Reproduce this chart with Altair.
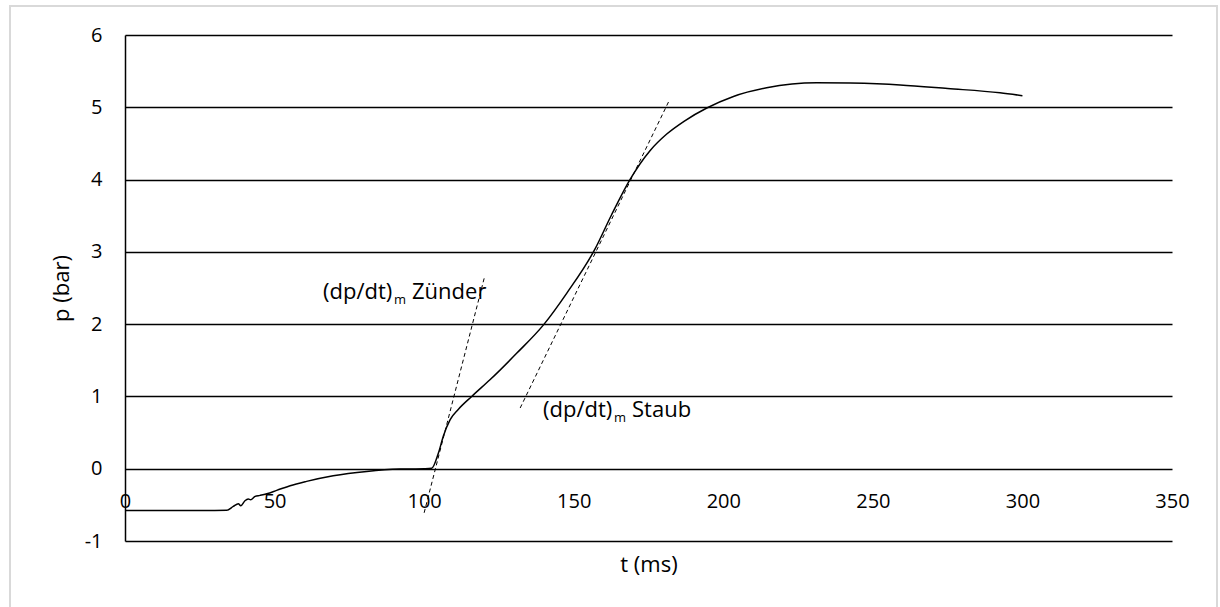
import altair as alt
import pandas as pd

# pressure curve p(t)
t_ms = [0, 10, 20, 30, 34.0, 36.2, 37.9, 38.7, 40.1, 41.2, 42.0, 43.5, 45.1, 47.4,
        50.7, 55.2, 60.7, 69.6, 80.8, 91.9, 100, 102.5, 104.8, 106.4, 108.7, 111.4,
        115.9, 122, 131, 139.9, 147.7, 157, 162.5, 168.8, 175.5, 181.1, 187,
        194.5, 203.4, 214.5, 231.2, 242.4, 259.1, 275, 292.5, 300]
p_bar = [-0.577, -0.577, -0.577, -0.577, -0.576, -0.521, -0.484, -0.512, -0.443, -0.42,
         -0.429, -0.383, -0.369, -0.346, -0.30, -0.235, -0.175, -0.097, -0.037, -0.005,
         0.0, 0.005, 0.22, 0.45, 0.68, 0.82, 1.0, 1.23, 1.6, 1.99, 2.43, 3.03, 3.5,
         4.0, 4.40, 4.63, 4.81, 4.99, 5.15, 5.27, 5.34, 5.335, 5.31, 5.26, 5.2, 5.16]

# tangents (dp/dt)m
zuender_t = [100.0, 120.1]
zuender_p = [-0.61, 2.64]
staub_t = [132.1, 182.0]
staub_p = [0.84, 5.1]

# annotation labels
label_t = [66.2, 139.75]
label_p = [2.45, 0.816]
label_main = ["(dp/dt)", "(dp/dt)"]
label_sub = ["m", "m"]
label_rest = ["Zünder", "Staub"]

x_ticks = [0, 50, 100, 150, 200, 250, 300, 350]
y_ticks = [-1, 0, 1, 2, 3, 4, 5, 6]

FONT = "Open Sans"

curve = pd.DataFrame({"t": t_ms, "p": p_bar})
tang = pd.DataFrame({
    "t": zuender_t + staub_t,
    "p": zuender_p + staub_p,
    "name": ["Zünder"] * 2 + ["Staub"] * 2,
})
labels = pd.DataFrame({"t": label_t, "p": label_p, "main": label_main,
                       "sub": label_sub, "rest": label_rest})

xscale = alt.Scale(domain=[0, 350], nice=False, zero=False)
yscale = alt.Scale(domain=[-1, 6], nice=False, zero=False)

xaxis = alt.Axis(values=x_ticks, grid=False, domain=False, ticks=False, offset=-72,
                 labelPadding=22, labelFontSize=20, labelFont=FONT, labelColor="black",
                 labelFlush=False, labelOverlap=False, labelExpr="'' + datum.value",
                 title="t (ms)", titleFontSize=22, titleFont=FONT, titleFontWeight="normal",
                 titleColor="black", titleY=95, titleBaseline="middle")
yaxis = alt.Axis(values=y_ticks, grid=True, gridColor="black", gridWidth=1.3,
                 domain=True, domainColor="black", domainWidth=1.5, ticks=False,
                 labelPadding=23, labelFontSize=20, labelFont=FONT, labelColor="black",
                 labelFlush=False, labelOverlap=False, labelExpr="'' + datum.value",
                 title="p (bar)", titleFontSize=22, titleFont=FONT, titleFontWeight="normal",
                 titleColor="black", titleX=-64, titleY=253, titleBaseline="middle")

border = alt.Chart(pd.DataFrame({"a": [0]})).mark_rect(
    filled=False, stroke="#d9d9d9", strokeWidth=2
).encode(x=alt.value(-115), x2=alt.value(1092), y=alt.value(-29), y2=alt.value(640))

line = alt.Chart(curve).mark_line(color="black", strokeWidth=1.5, interpolate="monotone").encode(
    x=alt.X("t:Q", scale=xscale, axis=xaxis),
    y=alt.Y("p:Q", scale=yscale, axis=yaxis),
)

tangents = alt.Chart(tang).mark_line(color="black", strokeWidth=1, strokeDash=[4, 3]).encode(
    x=alt.X("t:Q", scale=xscale),
    y=alt.Y("p:Q", scale=yscale),
    detail="name:N",
)

base_txt = alt.Chart(labels).encode(x=alt.X("t:Q", scale=xscale), y=alt.Y("p:Q", scale=yscale))
txt_main = base_txt.mark_text(align="left", baseline="middle", font=FONT, fontSize=22,
                              fill="black").encode(text="main:N")
txt_sub = base_txt.mark_text(align="left", baseline="middle", font=FONT, fontSize=13,
                             fill="black", dx=71, dy=8).encode(text="sub:N")
txt_rest = base_txt.mark_text(align="left", baseline="middle", font=FONT, fontSize=22,
                              fill="black", dx=89).encode(text="rest:N")

chart = alt.layer(border, line, tangents, txt_main, txt_sub, txt_rest).properties(
    width=1047, height=506,
    padding={"left": 125, "top": 35, "right": 48, "bottom": 66},
    autosize=alt.AutoSizeParams(type="none"),
    background="white",
).configure_view(stroke=None)

chart.save("out.html", embed_options={"renderer": "svg", "actions": False})
